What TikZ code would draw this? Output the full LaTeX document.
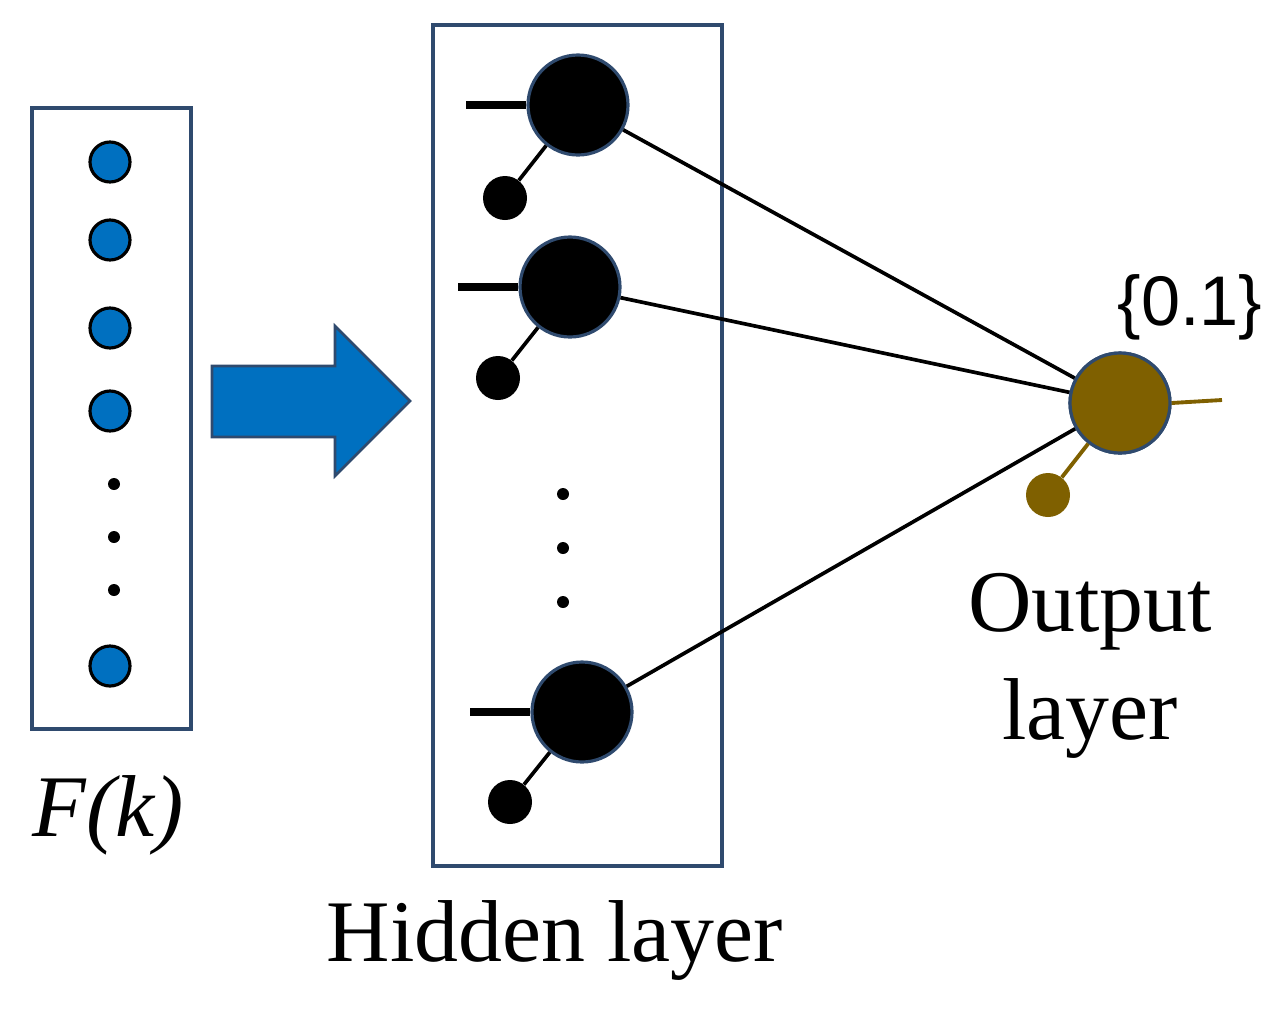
\documentclass[tikz,border=0pt]{standalone}
\usepackage{fontspec}
\setmainfont{Liberation Serif}
\newfontfamily\sansf{Liberation Sans}
\begin{document}
\begin{tikzpicture}[x=0.02cm,y=-0.02cm,
 box/.style={draw=boxc,line width=2pt},
 inp/.style={circle,fill=blu,draw=black,line width=1.8pt,minimum size=40*0.02cm,inner sep=0},
 dot/.style={circle,fill=black,minimum size=12*0.02cm,inner sep=0},
 hid/.style={circle,fill=black,draw=boxc,line width=1.8pt,minimum size=100*0.02cm,inner sep=0},
 bias/.style={circle,fill=black,minimum size=44*0.02cm,inner sep=0},
 conn/.style={line width=2.1pt},
 lbl/.style={font=\fontsize{50}{60}\selectfont,inner sep=0}]
\definecolor{blu}{HTML}{0070C0}
\definecolor{boxc}{HTML}{2F4A6E}
\definecolor{brn}{HTML}{7F6000}
\useasboundingbox (0,0) rectangle (1284,1008);
\draw[box] (32,108) rectangle (191,729);
\foreach \y/\n in {162/i1,240/i2,328/i3,411/i4,666/i5} \node[inp] (\n) at (110,\y) {};
\foreach \y/\n in {484/d1,537/d2,590/d3} \node[dot] (\n) at (114,\y) {};
\node[lbl,font=\fontsize{50}{60}\selectfont\itshape] (fk) at (108,815) {F(k)};
\draw[fill=blu,draw=boxc,line width=1.5pt] (212,366) -- (335,366) -- (335,326) -- (410,401) -- (335,476) -- (335,437) -- (212,437) -- cycle;
\draw[box] (433,25) rectangle (722,866);
\node[hid] (h1) at (578,105) {};
\node[hid] (h2) at (570,287) {};
\node[hid] (h3) at (582,712) {};
\coordinate (b1s) at (466,105); \coordinate (b2s) at (458,287); \coordinate (b3s) at (470,712);
\draw[line width=5pt] (b1s) -- (h1.west);
\draw[line width=5pt] (b2s) -- (h2.west);
\draw[line width=5pt] (b3s) -- (h3.west);
\node[bias] (s1) at (505,198) {}; \node[bias] (s2) at (498,378) {}; \node[bias] (s3) at (510,802) {};
\draw[conn] (s1) -- (h1); \draw[conn] (s2) -- (h2); \draw[conn] (s3) -- (h3);
\foreach \y/\n in {494/e1,548/e2,602/e3} \node[dot] (\n) at (563,\y) {};
\node[hid,fill=brn] (o) at (1120,403) {};
\draw[conn] (h1) -- (o); \draw[conn] (h2) -- (o); \draw[conn] (h3) -- (o);
\node[hid,fill=brn] at (1120,403) {};
\coordinate (oe) at (1222,400);
\draw[brn,line width=2.2pt] (o.east) -- (oe);
\node[bias,fill=brn] (ob) at (1048,495) {};
\draw[brn,line width=2.2pt] (ob) -- (o);
\node[inner sep=0,font=\fontsize{40}{48}\sansf] (v) at (1190,307) {\{0.1\}};
\node[lbl,font=\fontsize{50}{60}\selectfont] (ol1) at (1090,612) {Output};
\node[lbl,font=\fontsize{50}{60}\selectfont] (ol2) at (1090,718) {layer};
\node[lbl,font=\fontsize{50}{60}\selectfont] (hl) at (555,940) {Hidden layer};
\end{tikzpicture}
\end{document}
